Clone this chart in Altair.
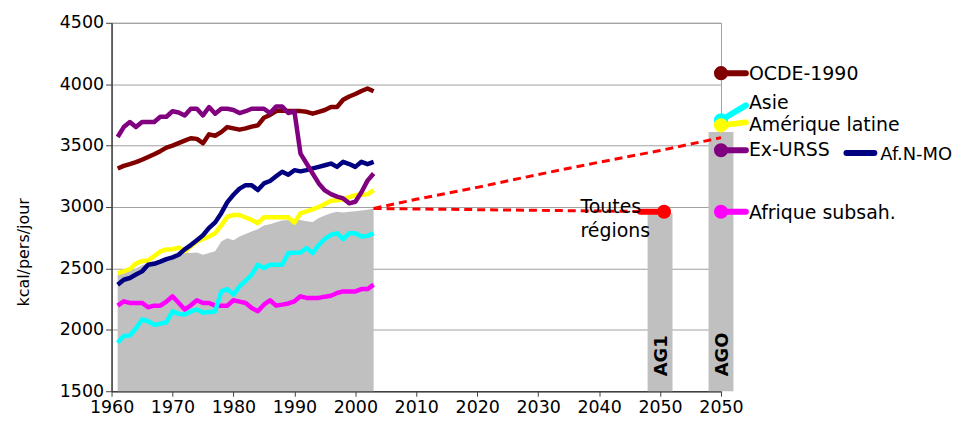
import altair as alt
import pandas as pd

# ---------------- data ----------------
years = list(range(1961, 2004))
ocde = [3314, 3335, 3350, 3365, 3385, 3408, 3430, 3455, 3484, 3500,
        3520, 3540, 3560, 3555, 3519, 3592, 3580, 3610, 3651, 3640,
        3630, 3640, 3655, 3665, 3727, 3750, 3781, 3785, 3781, 3781,
        3781, 3775, 3760, 3775, 3790, 3814, 3814, 3873, 3900, 3920,
        3945, 3965, 3943]
urss = [3570, 3651, 3692, 3651, 3692, 3692, 3692, 3735, 3735, 3780,
        3770, 3746, 3800, 3800, 3746, 3814, 3760, 3800, 3800, 3790,
        3765, 3780, 3800, 3800, 3800, 3765, 3819, 3819, 3765, 3781,
        3435, 3354, 3273, 3192, 3135, 3105, 3085, 3070, 3030, 3043,
        3120, 3215, 3273]
afnmo = [2368, 2408, 2422, 2450, 2476, 2530, 2538, 2555, 2576, 2590,
         2611, 2655, 2690, 2730, 2770, 2830, 2875, 2950, 3040, 3100,
         3150, 3178, 3178, 3138, 3192, 3212, 3250, 3287, 3262, 3300,
         3290, 3300, 3315, 3327, 3340, 3354, 3327, 3368, 3350, 3327,
         3368, 3349, 3368]
amlat = [2462, 2475, 2495, 2540, 2560, 2565, 2600, 2638, 2655, 2657,
         2670, 2640, 2680, 2719, 2740, 2760, 2787, 2850, 2920, 2935,
         2935, 2915, 2895, 2868, 2916, 2916, 2916, 2916, 2916, 2873,
         2949, 2965, 2981, 3000, 3025, 3051, 3055, 3062, 3080, 3097,
         3100, 3103, 3138]
asie = [1895, 1949, 1954, 2010, 2084, 2070, 2040, 2050, 2062, 2150,
        2130, 2124, 2150, 2165, 2140, 2145, 2150, 2313, 2332, 2287,
        2354, 2400, 2449, 2530, 2503, 2530, 2530, 2530, 2625, 2628,
        2630, 2665, 2625, 2692, 2740, 2773, 2787, 2738, 2787, 2787,
        2760, 2765, 2787]
afss = [2197, 2232, 2219, 2219, 2219, 2184, 2197, 2197, 2230, 2273,
        2220, 2165, 2200, 2241, 2219, 2219, 2197, 2197, 2197, 2241,
        2230, 2219, 2178, 2151, 2205, 2241, 2197, 2205, 2215, 2232,
        2273, 2260, 2260, 2260, 2270, 2278, 2300, 2313, 2313, 2313,
        2332, 2332, 2368]
monde = [2449, 2460, 2480, 2500, 2525, 2546, 2560, 2570, 2584, 2600,
         2615, 2630, 2625, 2630, 2611, 2625, 2640, 2720, 2745, 2730,
         2760, 2780, 2800, 2820, 2850, 2860, 2875, 2890, 2895, 2895,
         2895, 2885, 2878, 2910, 2930, 2950, 2962, 2955, 2962, 2965,
         2972, 2978, 2988]

series_names = ["OCDE-1990", "Afrique subsah.", "Asie", "Amérique latine", "Af.N-MO", "Ex-URSS"]
series_colors = ["#800000", "#ff00ff", "#00ffff", "#ffff00", "#000080", "#800080"]
series_values = [ocde, afss, asie, amlat, afnmo, urss]

# 2050 (AGO scenario) end values, drawn at the second "2050" slot
end_names = ["OCDE-1990", "Asie", "Amérique latine", "Ex-URSS", "Afrique subsah."]
end_colors = ["#800000", "#00ffff", "#ffff00", "#800080", "#ff00ff"]
end_values = [4090, 3706, 3665, 3462, 2962]
afnmo_end = 3440

scenario_names = ["AG1", "AGO"]
scenario_slots = [2050, 2060]
scenario_bars = [2950, 3610]
monde_ag1 = 2962

proj_ag1_years = [2003, 2050]
proj_ag1_vals = [2988, 2962]
proj_ago_years = [2003, 2010, 2020, 2030, 2040, 2050, 2060]
proj_ago_vals = [2988, 3063, 3160, 3265, 3365, 3460, 3565]

x_ticks = list(range(1960, 2061, 10))
y_ticks = list(range(1500, 4501, 500))

# ---------------- chart ----------------
W, H = 612, 370
PX = 100.0 / W          # years per pixel
KPX = 3000.0 / H        # kcal per pixel
FONT = "DejaVu Sans"
LAB = 19

xs = alt.Scale(domain=[1960, 2060], nice=False, zero=False, padding=0)
ys = alt.Scale(domain=[1500, 4500], nice=False, zero=False, padding=0)
xaxis = alt.Axis(values=x_ticks, format="d", title="", grid=False,
                 labelExpr="datum.value == 2060 ? '2050' : datum.label",
                 labelFlush=False, labelOverlap=False, labelFontSize=17.5,
                 labelColor="black", labelPadding=2, tickSize=5,
                 tickColor="#404040", domainColor="#404040", domainWidth=1.5)
yaxis = alt.Axis(values=y_ticks, format="d", title="kcal/pers/jour", grid=True,
                 gridColor="#a0a0a0", labelFlush=False, labelFontSize=17.5,
                 labelColor="black", labelPadding=2, tickSize=6,
                 tickColor="#404040", domainColor="#404040", domainWidth=1.5,
                 titleFontSize=16, titleFontWeight="normal", titleColor="black",
                 titleX=-88, titleY=230, titleBaseline="middle")


def X(f="year"):
    return alt.X(f"{f}:Q", scale=xs, axis=xaxis)


def Y(f="kcal"):
    return alt.Y(f"{f}:Q", scale=ys, axis=yaxis)


layers = []

# grey area: world average
df_monde = pd.DataFrame({"year": years, "kcal": monde})
layers.append(alt.Chart(df_monde).mark_area(color="#c0c0c0", opacity=1)
              .encode(x=X(), y=Y(), y2=alt.datum(1500)))

# scenario bars
df_bars = pd.DataFrame({"year": scenario_slots, "kcal": scenario_bars, "name": scenario_names})
layers.append(alt.Chart(df_bars).mark_bar(color="#c0c0c0", size=25)
              .encode(x=X(), y=Y(), y2=alt.datum(1500)))
layers.append(alt.Chart(df_bars).mark_text(angle=270, align="left", baseline="middle",
                                           fontSize=18, fontWeight="bold", font=FONT,
                                           color="black", dx=15, dy=2)
              .encode(x=X(), y=alt.datum(1500), text="name:N"))

# dashed projections
df_p1 = pd.DataFrame({"year": proj_ag1_years, "kcal": proj_ag1_vals})
df_p2 = pd.DataFrame({"year": proj_ago_years, "kcal": proj_ago_vals})
for d in (df_p1, df_p2):
    layers.append(alt.Chart(d).mark_line(color="#ff0000", strokeWidth=3, strokeDash=[8, 5])
                  .encode(x=X(), y=Y()))

# historical series
for name, col, vals in zip(series_names, series_colors, series_values):
    d = pd.DataFrame({"year": years, "kcal": vals})
    layers.append(alt.Chart(d).mark_line(color=col, strokeWidth=4.5, strokeJoin="round")
                  .encode(x=X(), y=Y()))

# label keys (short segments from the end dots to the labels)
seg_dy = {"Asie": 15, "Amérique latine": 3}
seg_rows = []
for n, c, v in zip(end_names, end_colors, end_values):
    seg_rows.append({"year": 2060, "kcal": v, "x2": 2060 + 25 * PX,
                     "y2": v + seg_dy.get(n, 0) * KPX, "c": c})
seg_rows.append({"year": 2060 + 126 * PX, "kcal": afnmo_end, "x2": 2060 + 154 * PX,
                 "y2": afnmo_end, "c": "#000080"})
seg_rows.append({"year": 2050 - 20 * PX, "kcal": monde_ag1, "x2": 2050 + 4 * PX,
                 "y2": monde_ag1, "c": "#ff0000"})
df_seg = pd.DataFrame(seg_rows)
layers.append(alt.Chart(df_seg).mark_rule(strokeWidth=6, strokeCap="round")
              .encode(x=X(), y=Y(), x2="x2:Q", y2="y2:Q",
                      color=alt.Color("c:N", scale=None, legend=None)))

# end dots
dot_rows = [{"year": 2060, "kcal": v, "c": c} for v, c in zip(end_values, end_colors)]
dot_rows.append({"year": 2050 + 4 * PX, "kcal": monde_ag1, "c": "#ff0000"})
df_dots = pd.DataFrame(dot_rows)
layers.append(alt.Chart(df_dots).mark_circle(size=200, opacity=1)
              .encode(x=X(), y=Y(), color=alt.Color("c:N", scale=None, legend=None)))

# labels
lab_dy = {"OCDE-1990": 1, "Asie": -17, "Amérique latine": 0, "Ex-URSS": 0, "Afrique subsah.": 1}
for n, v in zip(end_names, end_values):
    d = pd.DataFrame({"year": [2060], "kcal": [v], "t": [n]})
    layers.append(alt.Chart(d).mark_text(align="left", baseline="middle", fontSize=LAB,
                                         font=FONT, color="black", dx=28, dy=lab_dy[n])
                  .encode(x=X(), y=Y(), text="t:N"))
d = pd.DataFrame({"year": [2060], "kcal": [afnmo_end], "t": ["Af.N-MO"]})
layers.append(alt.Chart(d).mark_text(align="left", baseline="middle", fontSize=18,
                                     font=FONT, color="black", dx=160, dy=2)
              .encode(x=X(), y=Y(), text="t:N"))
layers.append(alt.Chart(pd.DataFrame({"year": [2050], "kcal": [monde_ag1]}))
              .mark_text(align="left", baseline="middle", fontSize=LAB, font=FONT,
                         color="black", dx=-80, dy=-5, lineHeight=24)
              .encode(x=X(), y=Y(), text=alt.value(["Toutes", "régions"])))

chart = (alt.layer(*layers)
         .properties(width=W, height=H,
                     autosize=alt.AutoSizeParams(type="none"),
                     padding={"left": 104, "top": 14, "right": 238, "bottom": 24})
         .configure(font=FONT)
         .configure_view(stroke="#a0a0a0", strokeWidth=1))

chart.save("out.html", embed_options={"renderer": "svg", "actions": False})
